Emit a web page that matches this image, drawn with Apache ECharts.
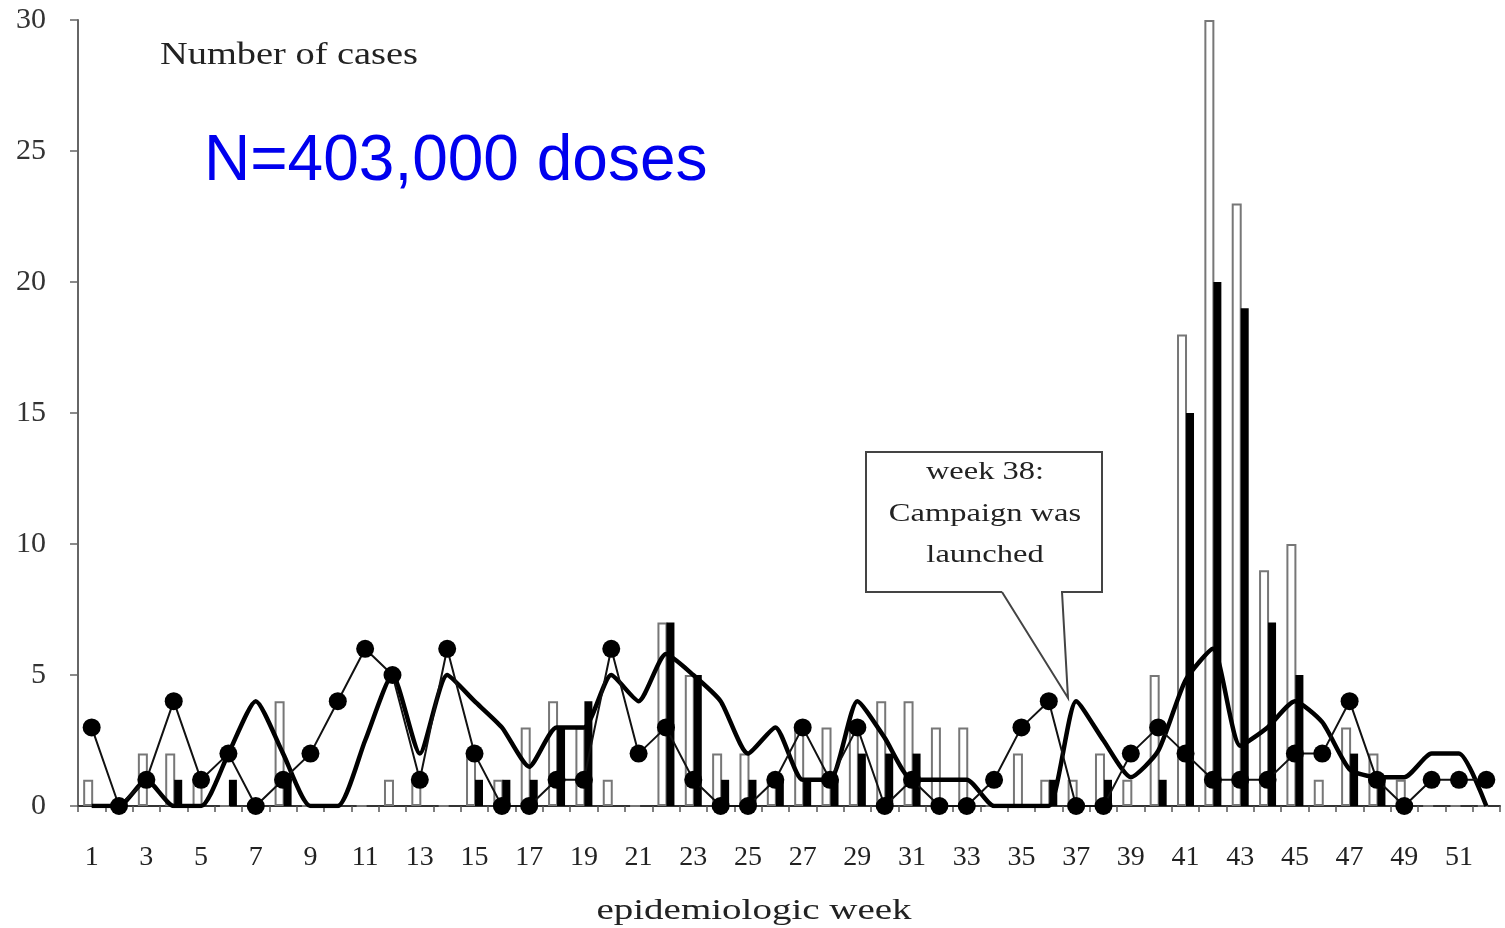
<!DOCTYPE html>
<html>
<head>
<meta charset="utf-8">
<script src="https://cdn.jsdelivr.net/npm/echarts@6/dist/echarts.min.js"></script>
<style>
  html, body { margin: 0; padding: 0; background: #fff; }
  #chart { width: 1505px; height: 928px; }
</style>
</head>
<body>
<div id="chart"></div>
<script>
// ---- data ----
const weeks = Array.from({ length: 52 }, (_, i) => String(i + 1));
const openBars =  [1,0,2,2,1,0,0,4,0,0,0,1,1,0,2,1,3,4,3,1,0,7,5,2,2,1,3,3,3,4,4,3,3,0,2,1,1,2,1,5,18,30,23,9,10,1,3,2,1,0,0,0];
const solidBars = [0,0,0,1,0,1,0,1,0,0,0,0,0,0,1,1,1,3,4,0,0,7,5,1,1,1,1,1,2,2,2,0,0,0,0,1,0,1,0,1,15,20,19,7,5,0,2,1,0,0,0,0];
const dotLine =   [3,0,1,4,1,2,0,1,2,4,6,5,1,6,2,0,0,1,1,6,2,3,1,0,0,1,3,1,3,0,1,0,0,1,3,4,0,0,2,3,2,1,1,1,2,2,4,1,0,1,1,1];
const thickLine = [0,0,1,0,0,2,4,2,0,0,2.5,5,2,5,4,3,1.5,3,3,5,4,5.8,5,4,2,3,1,1,4,2.6,1,1,1,0,0,0,4,2.5,1.1,2.1,4.8,6,2.3,3,4,3.2,1.4,1.1,1.1,2,2,0];
const yTicks = [0, 5, 10, 15, 20, 25, 30];

const serif = '"Liberation Serif", "DejaVu Serif", serif';

const chart = echarts.init(document.getElementById('chart'));
chart.setOption({
  animation: false,
  backgroundColor: '#fff',
  grid: { left: 78, right: 5, top: 20, bottom: 122, containLabel: false, outerBoundsMode: 'none' },
  xAxis: {
    type: 'category',
    data: weeks,
    boundaryGap: true,
    axisLine: { lineStyle: { color: '#333', width: 2 } },
    axisTick: { show: true, interval: 0, length: 6, lineStyle: { color: '#555', width: 1.5 } },
    axisLabel: { interval: 1, margin: 38, fontFamily: serif, fontSize: 28, color: '#222' },
    splitLine: { show: false }
  },
  yAxis: {
    type: 'value',
    min: yTicks[0],
    max: yTicks[yTicks.length - 1],
    interval: 5,
    axisLine: { show: true, lineStyle: { color: '#666', width: 2 } },
    axisTick: { show: true, length: 8, lineStyle: { color: '#666', width: 1.5 } },
    axisLabel: { margin: 32, fontFamily: serif, fontSize: 30, color: '#333' },
    splitLine: { show: false }
  },
  series: [
    {
      type: 'bar',
      data: openBars,
      barWidth: 10,
      barGap: '-10%',
      itemStyle: { color: '#fff', borderColor: '#777', borderWidth: 2 },
      z: 1
    },
    {
      type: 'bar',
      data: solidBars,
      barWidth: 8,
      itemStyle: { color: '#000', borderColor: '#000', borderWidth: 0 },
      z: 2
    },
    {
      type: 'line',
      data: thickLine,
      smooth: 0.2,
      symbol: 'none',
      lineStyle: { color: '#000', width: 4.5 },
      z: 3
    },
    {
      type: 'line',
      data: dotLine,
      symbol: 'circle',
      symbolSize: 18,
      itemStyle: { color: '#000' },
      lineStyle: { color: '#111', width: 2 },
      z: 4
    }
  ],
  graphic: [
    {
      type: 'text', x: 160, y: 56, scaleX: 1.2,
      style: { text: 'Number of cases', font: '32px ' + serif, fill: '#222', verticalAlign: 'middle' }
    },
    {
      type: 'text', x: 754, y: 911, scaleX: 1.3,
      style: { text: 'epidemiologic week', font: '30px ' + serif, fill: '#222', align: 'center', verticalAlign: 'middle' }
    },
    {
      type: 'text', left: 204, top: 130,
      style: { text: 'N=403,000 doses', font: '64px "Liberation Sans", Arial, sans-serif', fill: '#0000ee' }
    },
    {
      type: 'polyline', z: 10,
      shape: { points: [[1002, 592], [866, 592], [866, 452], [1102, 452], [1102, 592], [1062, 592], [1068, 698], [1002, 592]] },
      style: { stroke: '#444', lineWidth: 2, fill: '#fff' }
    },
    {
      type: 'text', z: 11, x: 985, y: 472, scaleX: 1.25,
      style: { text: 'week 38:', font: '26px ' + serif, fill: '#222', align: 'center', verticalAlign: 'middle' }
    },
    {
      type: 'text', z: 11, x: 985, y: 514, scaleX: 1.25,
      style: { text: 'Campaign was', font: '26px ' + serif, fill: '#222', align: 'center', verticalAlign: 'middle' }
    },
    {
      type: 'text', z: 11, x: 985, y: 555, scaleX: 1.25,
      style: { text: 'launched', font: '26px ' + serif, fill: '#222', align: 'center', verticalAlign: 'middle' }
    }
  ]
});
</script>
</body>
</html>
